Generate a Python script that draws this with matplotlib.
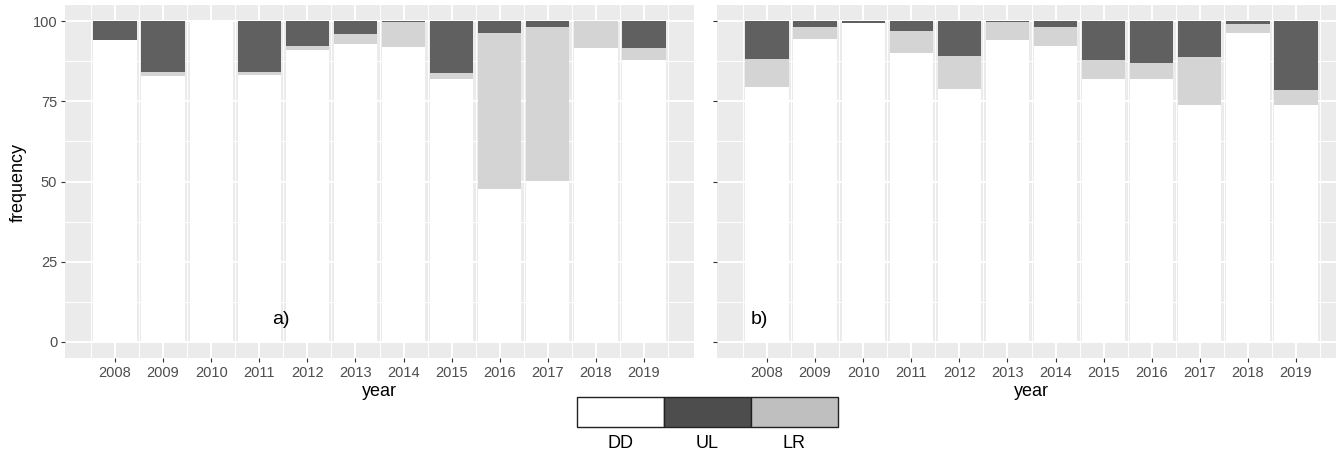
import matplotlib
matplotlib.use("Agg")
import matplotlib.pyplot as plt
from matplotlib.patches import Rectangle
import numpy as np

plt.rcParams['font.family'] = ['Liberation Sans', 'DejaVu Sans']

years = [2008, 2009, 2010, 2011, 2012, 2013, 2014, 2015, 2016, 2017, 2018, 2019]

# panel a) shares (%)
a_dd = [94.2, 83.0, 100.0, 83.1, 90.9, 92.7, 92.0, 82.0, 47.6, 50.3, 91.6, 88.0]
a_lr = [0.0, 1.0, 0.0, 1.1, 1.3, 3.3, 7.7, 1.8, 48.6, 47.7, 8.4, 3.5]
a_ul = [5.8, 16.0, 0.0, 15.8, 7.8, 4.0, 0.3, 16.2, 3.8, 2.0, 0.0, 8.5]

# panel b) shares (%)
b_dd = [79.3, 94.3, 99.5, 89.9, 78.7, 94.0, 92.3, 81.9, 81.9, 73.8, 96.2, 73.8]
b_lr = [8.9, 4.0, 0.0, 6.9, 10.3, 5.7, 5.9, 6.1, 5.1, 15.0, 2.8, 4.8]
b_ul = [11.8, 1.7, 0.5, 3.2, 11.0, 0.3, 1.8, 12.0, 13.0, 11.2, 1.0, 21.4]

legend_labels = ["DD", "UL", "LR"]
y_ticks = [0, 25, 50, 75, 100]

COL_DD = "#ffffff"
COL_UL = "#606060"
COL_LR = "#d4d4d4"
LEG_UL = "#4d4d4d"
LEG_LR = "#bfbfbf"
BG = "#ebebeb"

W, H = 1336, 457
fig = plt.figure(figsize=(W / 100, H / 100), dpi=100)


def px_axes(left, top, right, bottom):
    return fig.add_axes([left / W, 1 - bottom / H, (right - left) / W, (bottom - top) / H])


def draw_panel(ax, dd, lr, ul, label, label_x, show_labels):
    x = np.array(years, dtype=float)
    dd = np.array(dd); lr = np.array(lr); ul = np.array(ul)
    ax.set_facecolor(BG)
    ax.bar(x, dd, width=0.9, color=COL_DD, linewidth=0, zorder=3)
    ax.bar(x, lr, width=0.9, bottom=dd, color=COL_LR, linewidth=0, zorder=3)
    ax.bar(x, ul, width=0.9, bottom=dd + lr, color=COL_UL, linewidth=0, zorder=3)
    ax.set_xlim(2008 - 1.04, 2019 + 1.04)
    ax.set_ylim(-5, 105)
    ax.set_xticks(years)
    ax.set_xticks(np.arange(2007.5, 2020.0, 1.0), minor=True)
    ax.set_yticks(y_ticks)
    ax.set_yticks(np.arange(12.5, 100, 25), minor=True)
    ax.set_xticklabels([str(y) for y in years])
    if show_labels:
        ax.set_yticklabels([str(v) for v in y_ticks])
    else:
        ax.set_yticklabels([])
    ax.grid(which="major", color="white", linewidth=1.4, zorder=1)
    ax.grid(which="minor", color="white", linewidth=0.7, zorder=1)
    ax.set_axisbelow(True)
    for s in ax.spines.values():
        s.set_visible(False)
    ax.tick_params(which="major", length=2.6, width=0.8, color="#333333",
                   labelcolor="#4d4d4d", labelsize=10.5, pad=3)
    ax.tick_params(which="minor", length=0)
    ax.text(label_x, 7.0, label, fontsize=14, color="black",
            ha="center", va="center", zorder=5)


ax_a = px_axes(65, 5, 694, 358)
draw_panel(ax_a, a_dd, a_lr, a_ul, "a)", 2011.45, True)

ax_b = px_axes(717, 5, 1346, 358)
draw_panel(ax_b, b_dd, b_lr, b_ul, "b)", 2007.85, False)

# axis titles
fig.text(18 / W, 1 - 182 / H, "frequency", rotation=90, fontsize=13,
         ha="center", va="center", color="black")
fig.text(379 / W, 1 - 392 / H, "year", fontsize=13, ha="center", va="center")
fig.text(1031 / W, 1 - 392 / H, "year", fontsize=13, ha="center", va="center")

# legend strip
leg_colors = [COL_DD, LEG_UL, LEG_LR]
x0, y_top, y_bot, seg = 577, 397, 427, 87
for i, (lab, c) in enumerate(zip(legend_labels, leg_colors)):
    fig.patches.append(Rectangle(((x0 + i * seg) / W, 1 - y_bot / H), seg / W,
                                 (y_bot - y_top) / H, transform=fig.transFigure,
                                 facecolor=c, edgecolor="#222222", linewidth=1.0))
    fig.text((x0 + i * seg + seg / 2) / W, 1 - 443 / H, lab, fontsize=13,
             ha="center", va="center", color="black")

fig.savefig("out.png", dpi=100)
